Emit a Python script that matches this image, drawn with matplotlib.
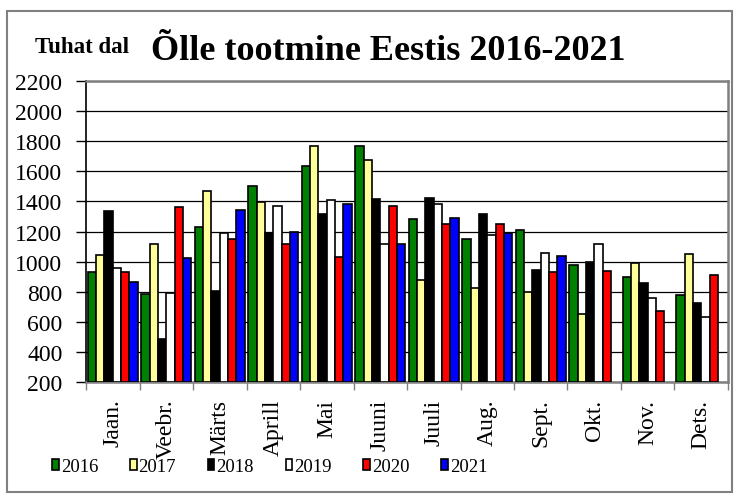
import matplotlib
matplotlib.use('Agg')
import matplotlib.pyplot as plt
import numpy as np
from matplotlib.patches import Rectangle

plt.rcParams['font.family'] = ['Liberation Serif', 'DejaVu Serif']

# Data (thousand decalitres)
months = ['Jaan.', 'Veebr.', 'Märts', 'Aprill', 'Mai', 'Juuni',
          'Juuli', 'Aug.', 'Sept.', 'Okt.', 'Nov.', 'Dets.']
years = ['2016', '2017', '2018', '2019', '2020', '2021']
y2016 = [932, 788, 1227, 1502, 1635, 1770, 1286, 1149, 1213, 980, 898, 781]
y2017 = [1043, 1120, 1470, 1397, 1770, 1675, 876, 827, 799, 650, 992, 1049]
y2018 = [1335, 488, 805, 1191, 1313, 1415, 1420, 1313, 947, 998, 859, 728]
y2019 = [958, 794, 1191, 1371, 1408, 1116, 1380, 1180, 1060, 1120, 761, 632]
y2020 = [932, 1364, 1149, 1116, 1031, 1369, 1249, 1253, 932, 938, 670, 910]
y2021 = [865, 1025, 1346, 1198, 1386, 1116, 1293, 1187, 1036]
series = [y2016, y2017, y2018, y2019, y2020, y2021]
colors = ['#008000', '#FFFF99', '#000000', '#FFFFFF', '#FF0000', '#0000FF']

fig = plt.figure(figsize=(7.39, 5.02), dpi=100)
ax = fig.add_axes([0.1164, 0.237, 0.8687, 0.5997])

# outer frame
fig.patches.append(Rectangle((0.009, 0.018), 0.981, 0.958, transform=fig.transFigure,
                             fill=False, edgecolor='#808080', linewidth=1.5))

bw = 0.156
x = np.arange(len(months))
for i, (vals, c) in enumerate(zip(series, colors)):
    pos = x[:len(vals)] + (i - 2.5) * bw
    ax.bar(pos, np.array(vals) - 200, bottom=200, width=bw, color=c,
           edgecolor='black', linewidth=1.2, label=years[i], zorder=3)

ax.set_xlim(-0.5, len(months) - 0.5)
ax.set_ylim(200, 2200)
ax.set_yticks(np.arange(200, 2201, 200))
ax.tick_params(axis='y', labelsize=17, direction='out', length=7, width=1, pad=10)
ax.grid(axis='y', color='black', linewidth=0.9, zorder=0)

ax.set_xticks(x)
ax.set_xticklabels(months, rotation=90, fontsize=17)
ax.tick_params(axis='x', length=0, pad=12)
ax.set_xticks(np.arange(-0.5, len(months)), minor=True)
ax.tick_params(axis='x', which='minor', length=6, direction='out', width=1, color='#808080')

for s in ['top', 'right', 'bottom']:
    ax.spines[s].set_color('#808080')
    ax.spines[s].set_linewidth(1.8)
ax.spines['left'].set_color('black')
ax.spines['left'].set_linewidth(1.2)

fig.text(0.525, 0.897, 'Õlle tootmine Eestis 2016-2021', ha='center', va='center',
         fontsize=26, fontweight='bold')
fig.text(0.047, 0.905, 'Tuhat dal', ha='left', va='center', fontsize=16.5, fontweight='bold')

fig.legend(loc='center', bbox_to_anchor=(0.365, 0.068), ncol=6, frameon=False,
           fontsize=13.5, handlelength=0.35, handleheight=0.5, handletextpad=0.1,
           columnspacing=1.7)

fig.savefig('out.png', dpi=100)
